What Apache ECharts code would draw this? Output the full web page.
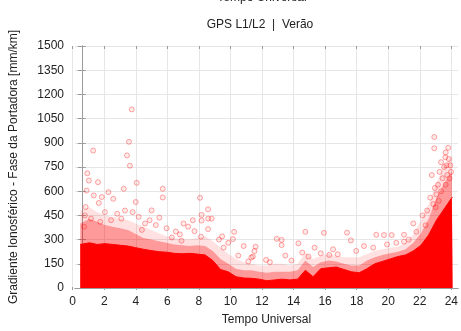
<!DOCTYPE html>
<html>
<head>
<meta charset="utf-8">
<script src="https://cdn.jsdelivr.net/npm/echarts@6/dist/echarts.min.js"></script>
<style>
  html, body { margin: 0; padding: 0; background: #fff; }
  #chart { width: 461px; height: 331px; }
</style>
</head>
<body>
<div id="chart"></div>
<script>
// Universal time (hours) at which the envelopes of the point cloud are sampled
const hours = [-0.1, 0, 0.5, 1, 1.5, 2, 2.5, 3, 3.5, 4, 4.5, 5, 5.5, 6, 6.5, 7, 7.5, 8, 8.5, 9, 9.5,
  10, 10.5, 11, 11.5, 12, 12.5, 13, 13.5, 14, 14.5, 15, 15.5, 16, 16.5, 17, 17.5, 18, 18.5, 19, 19.5,
  20, 20.5, 21, 21.5, 22, 22.5, 23, 23.5, 24, 24.05];

// Top of the saturated core of the cloud [mm/km]
const coreTop = [270, 275, 280, 270, 275, 270, 265, 260, 250, 240, 232, 225, 222, 215, 212, 215, 210,
  205, 170, 115, 100, 70, 62, 60, 55, 45, 50, 55, 50, 55, 110, 70, 120, 125, 130, 115, 100, 95, 120,
  150, 165, 180, 195, 205, 230, 265, 330, 420, 490, 560, 560];

// Top of the dense band of overlapping points above the core
const denseTop = [400, 400, 430, 410, 390, 380, 370, 360, 335, 310, 300, 290, 280, 270, 265, 260, 265,
  260, 230, 180, 150, 120, 110, 110, 100, 95, 100, 100, 100, 110, 170, 130, 160, 170, 165, 150, 140,
  140, 170, 190, 205, 215, 225, 240, 280, 340, 430, 560, 650, 720, 720];

// Top of the sparse haze of points
const hazeTop = [480, 480, 500, 470, 450, 440, 430, 420, 400, 380, 360, 340, 320, 310, 300, 300, 310,
  320, 290, 250, 210, 180, 160, 150, 140, 140, 150, 150, 140, 150, 220, 180, 200, 210, 200, 190, 190,
  190, 210, 230, 240, 250, 255, 280, 330, 420, 520, 650, 760, 820, 820];

// Isolated samples: [hour, gradient mm/km]
const isolated = [
  [0.74, 852], [3.24, 1107], [3.06, 906], [2.93, 822], [3.12, 758], [0.36, 711], [0.46, 666],
  [1.05, 656], [0.31, 604], [3.56, 652], [5.25, 615], [5.25, 561], [1.73, 594], [0.78, 574],
  [2.72, 615], [1.3, 564], [2.04, 553], [3.5, 533], [1.1, 527], [4.53, 481], [3.69, 441],
  [5.03, 436], [0.25, 502], [2.57, 430],
  [7.67, 559], [8.19, 488], [7.77, 453], [7.77, 418], [8.2, 430], [8.42, 430], [9.88, 348],
  [9.8, 303], [8.19, 365], [7.31, 352], [6.36, 332], [5.84, 313], [7.73, 318], [6.47, 293],
  [9.2, 250], [10.15, 201], [11.0, 189],
  [14.5, 348], [15.7, 342], [12.64, 305], [12.96, 298], [12.96, 266], [11.27, 256], [11.2, 229],
  [14.05, 277], [14.7, 195], [11.1, 195], [13.2, 201], [15.5, 215], [16.05, 205], [16.6, 209],
  [11.95, 174], [10.8, 164],
  [17.2, 343], [17.45, 295], [19.1, 330], [19.6, 328], [20.1, 328], [20.9, 330], [20.9, 287],
  [21.5, 400], [21.7, 348], [22.3, 389],
  [22.86, 936], [22.86, 866], [23.6, 840], [23.77, 869], [23.58, 810], [23.8, 800], [23.2, 720],
  [23.4, 680], [23.1, 640], [23.9, 760], [23.5, 750], [22.7, 700], [22.9, 620], [23.7, 700],
  [22.6, 560],
  [0.2, 450], [0.6, 430], [1.5, 470], [1.9, 420], [2.3, 460], [2.8, 480], [3.3, 470], [4.1, 400],
  [4.8, 390], [5.5, 370], [6.1, 350], [0.15, 380], [1.2, 410], [3.9, 360], [4.4, 420],
  [22.1, 450], [22.4, 480], [22.8, 520], [23.0, 580], [23.3, 600], [23.6, 640], [23.85, 680],
  [23.95, 720], [23.3, 780], [23.65, 760], [22.95, 500], [23.15, 540],
  [12.2, 160], [13.6, 170], [14.3, 220], [15.1, 250], [16.3, 240], [17.8, 230], [18.3, 260],
  [18.9, 250], [19.8, 270], [20.4, 280], [21.2, 300], [10.5, 260], [9.5, 280], [9.1, 320],
  [8.9, 300], [6.9, 380], [7.2, 420], [6.6, 400]
];

const FONT = 'Liberation Sans';
const frame = '#9a9a9a';
const gridColor = '#e6e6e6';
const pair = arr => hours.map((h, i) => [h, arr[i]]);

const chart = echarts.init(document.getElementById('chart'));
chart.setOption({
  animation: false,
  textStyle: { fontFamily: FONT },
  grid: [
    { left: 66, right: 3, top: 46, bottom: 41 },
    { left: 72.7, right: 8.7, top: 46, bottom: 41 }
  ],
  xAxis: [
    {
      gridIndex: 0, type: 'value', min: -0.44, max: 24.4,
      axisLine: { show: true, lineStyle: { color: frame } },
      axisTick: { show: false }, axisLabel: { show: false }, splitLine: { show: false },
      name: 'Tempo Universal', nameLocation: 'middle', nameGap: 26,
      nameTextStyle: { fontSize: 12, color: '#222', fontFamily: FONT }
    },
    {
      gridIndex: 0, type: 'value', position: 'top', min: -0.44, max: 24.4,
      axisLine: { show: true, lineStyle: { color: frame } },
      axisTick: { show: false }, axisLabel: { show: false }, splitLine: { show: false }
    },
    {
      gridIndex: 1, type: 'value', min: 0, max: 24, interval: 2,
      axisLine: { show: false },
      axisTick: { show: true, inside: true, length: 3, lineStyle: { color: frame } },
      axisLabel: { margin: 6, fontSize: 12, color: '#222', fontFamily: FONT },
      splitLine: { show: true, lineStyle: { color: gridColor, width: 1 } }
    },
    {
      gridIndex: 1, type: 'value', position: 'top', min: 0, max: 24, interval: 2,
      axisLine: { show: false },
      axisTick: { show: true, inside: true, length: 3, lineStyle: { color: frame } },
      axisLabel: { show: false }, splitLine: { show: false }
    }
  ],
  yAxis: [
    {
      gridIndex: 0, type: 'value', min: 0, max: 1500, interval: 150,
      axisLine: { show: true, lineStyle: { color: frame } },
      axisTick: { show: true, inside: true, length: 4, lineStyle: { color: frame } },
      axisLabel: { margin: 11, fontSize: 12, color: '#222', fontFamily: FONT,
                   formatter: v => String(v) },
      splitLine: { show: true, lineStyle: { color: gridColor, width: 1 } },
      name: 'Gradiente Ionosférico - Fase da Portadora [mm/km]',
      nameLocation: 'middle', nameGap: 55, nameRotate: 90,
      nameTextStyle: { fontSize: 12, color: '#222', fontFamily: FONT }
    },
    {
      gridIndex: 0, type: 'value', position: 'right', min: 0, max: 1500, interval: 150,
      axisLine: { show: true, lineStyle: { color: frame } },
      axisTick: { show: true, inside: true, length: 4, lineStyle: { color: frame } },
      axisLabel: { show: false }, splitLine: { show: false }
    },
    { gridIndex: 1, type: 'value', min: 0, max: 1500, show: false }
  ],
  graphic: [
    {
      type: 'text', x: 262, y: -2,
      style: { text: 'Tempo Universal', align: 'center', verticalAlign: 'middle',
               font: '12px "Liberation Sans"', fill: '#222' }
    },
    {
      type: 'text', x: 260, y: 25,
      style: { text: 'GPS L1/L2  |  Verão', align: 'center', verticalAlign: 'middle',
               font: '12px "Liberation Sans"', fill: '#222' }
    }
  ],
  series: [
    {
      type: 'line', xAxisIndex: 0, yAxisIndex: 0, data: pair(hazeTop), symbol: 'none',
      lineStyle: { width: 0 }, areaStyle: { color: 'rgba(255,0,0,0.17)', origin: 'start' }, z: 2
    },
    {
      type: 'line', xAxisIndex: 0, yAxisIndex: 0, data: pair(denseTop), symbol: 'none',
      lineStyle: { width: 0 }, areaStyle: { color: 'rgba(255,0,0,0.45)', origin: 'start' }, z: 3
    },
    {
      type: 'line', xAxisIndex: 0, yAxisIndex: 0, data: pair(coreTop), symbol: 'none',
      lineStyle: { width: 1, color: '#ff0000' }, areaStyle: { color: '#ff0000', opacity: 1, origin: 'start' }, z: 4
    },
    {
      type: 'scatter', xAxisIndex: 0, yAxisIndex: 0, data: isolated, symbol: 'circle', symbolSize: 5,
      itemStyle: { color: 'rgba(255,0,0,0.10)', borderColor: 'rgba(255,0,0,0.42)', borderWidth: 1 }, z: 5
    }
  ]
});
</script>
</body>
</html>
